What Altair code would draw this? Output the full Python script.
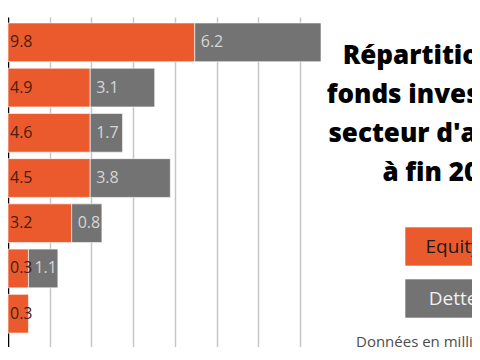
import altair as alt
import pandas as pd

# ---- data ----
categories = ["Secteur 1", "Secteur 2", "Secteur 3", "Secteur 4", "Secteur 5", "Secteur 6", "Secteur 7"]
equity_labels = ["9.8", "4.9", "4.6", "4.5", "3.2", "0.3", "0.3"]
dette_labels = ["6.2", "3.1", "1.7", "3.8", "0.8", "1.1", ""]
# bar lengths as drawn in the picture (axis units)
equity_len = [8.95, 3.94, 3.94, 3.94, 3.05, 0.98, 0.98]
dette_len = [6.05, 3.09, 1.55, 3.84, 1.45, 1.41, 0.0]
series = ["Equity", "Dette"]
series_colors = ["#EB5A2D", "#737373"]
grid_values = [2, 4, 6, 8, 10, 12, 14]
title_lines = ["Répartition des", "fonds investis par", "secteur d'activité", "à fin 2021"]
note = "Données en millions d'euros"

rows = []
for c, el, dl, e, d in zip(categories, equity_labels, dette_labels, equity_len, dette_len):
    rows.append(dict(cat=c, series="Equity", start=0.0, end=e, label=el))
    if d > 0:
        rows.append(dict(cat=c, series="Dette", start=e, end=e + d, label=dl))
df = pd.DataFrame(rows)

FONT = "Open Sans"

x = alt.X("start:Q",
          scale=alt.Scale(domain=[0, 15], nice=False, zero=True),
          axis=alt.Axis(values=grid_values, grid=True, labels=False, ticks=False,
                        domain=False, title=None, gridColor="#c6c6c6", gridWidth=1.5))
y = alt.Y("cat:N", sort=categories,
          scale=alt.Scale(paddingInner=0.143, paddingOuter=0.22, align=0.3),
          axis=alt.Axis(labels=False, ticks=False, title=None, grid=False,
                        domainColor="black", domainWidth=1.5))

bars = alt.Chart(df).mark_bar(stroke="white", strokeWidth=1, strokeOpacity=0.6).encode(
    x=x, x2="end:Q", y=y,
    color=alt.Color("series:N", scale=alt.Scale(domain=series, range=series_colors), legend=None),
)

eq_text = alt.Chart(df).transform_filter(alt.datum.series == "Equity").mark_text(
    align="left", baseline="middle", dx=2, fontSize=16, font=FONT, color="#4a1d0e"
).encode(x=x, y=y, text="label:N")

de_text = alt.Chart(df).transform_filter(alt.datum.series == "Dette").mark_text(
    align="left", baseline="middle", dx=6, fontSize=16, font=FONT, color="#d6d6d6"
).encode(x=x, y=y, text="label:N")

one = pd.DataFrame({"k": [0]})
title = alt.Chart(one).mark_text(
    align="center", baseline="alphabetic", fontSize=26, fontWeight=800, font=FONT,
    lineHeight=39, lineBreak="\n", color="black"
).encode(x=alt.value(438), y=alt.value(47), text=alt.value("\n".join(title_lines)))

legend_layers = []
legend_y = [(210, 249), (262, 301)]
legend_text_colors = ["#1a1a1a", "#f0f0f0"]
for name, col, (y0, y1), tc in zip(series, series_colors, legend_y, legend_text_colors):
    d = pd.DataFrame({"name": [name]})
    legend_layers.append(
        alt.Chart(d).mark_rect(color=col, stroke="white", strokeWidth=1, strokeOpacity=0.6).encode(
            x=alt.value(397), x2=alt.value(493), y=alt.value(y0), y2=alt.value(y1)))
    legend_layers.append(
        alt.Chart(d).mark_text(align="center", baseline="middle", fontSize=19, font=FONT, color=tc).encode(
            x=alt.value(445), y=alt.value((y0 + y1) / 2), text="name:N"))

note_layer = alt.Chart(one).mark_text(
    align="left", baseline="middle", fontSize=15, font=FONT, color="#4d4d4d"
).encode(x=alt.value(348), y=alt.value(325), text=alt.value(note))

chart = alt.layer(bars, eq_text, de_text, title, *legend_layers, note_layer).properties(
    width=313, height=330,
    padding={"left": 0, "top": 9, "right": 151, "bottom": 0},
    autosize=alt.AutoSizeParams(type="none"),
    background="white",
).configure(font=FONT).configure_view(strokeWidth=0, strokeOpacity=0)

chart.save("out.html", embed_options={"renderer": "svg", "actions": False})
